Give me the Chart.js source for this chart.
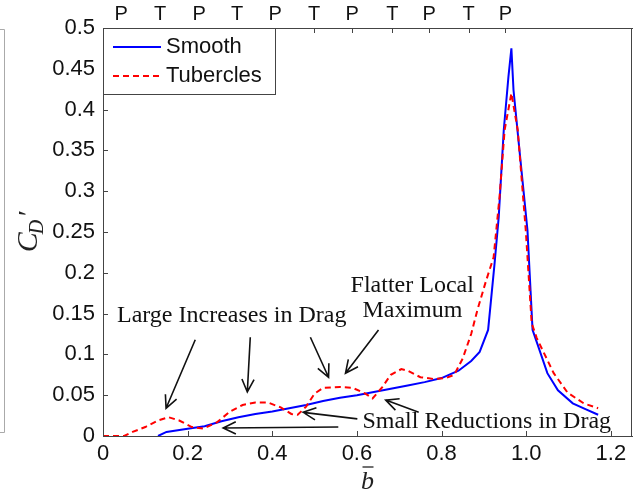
<!DOCTYPE html>
<html>
<head>
<meta charset="utf-8">
<script src="https://cdn.jsdelivr.net/npm/chart.js@4.4.1/dist/chart.umd.min.js"></script>
<style>
  html, body { margin: 0; padding: 0; background: #fff; }
  #wrap { width: 633px; height: 493px; position: relative; }
</style>
</head>
<body>
<div id="wrap"><canvas id="chart"></canvas></div>
<script>
// Smooth flipper (blue, solid)
const smoothX = [0.13, 0.15, 0.20, 0.24, 0.28, 0.32, 0.36, 0.40, 0.44, 0.48, 0.52, 0.56, 0.60, 0.64, 0.68, 0.72, 0.76, 0.80, 0.84, 0.87, 0.89, 0.91, 0.925, 0.935, 0.947, 0.958, 0.965, 0.970, 0.987, 1.003, 1.015, 1.025, 1.05, 1.075, 1.11, 1.14, 1.17];
const smoothY = [0, 0.005, 0.009, 0.012, 0.018, 0.023, 0.027, 0.030, 0.034, 0.038, 0.043, 0.047, 0.050, 0.054, 0.058, 0.062, 0.066, 0.071, 0.080, 0.092, 0.103, 0.13, 0.21, 0.268, 0.375, 0.44, 0.475, 0.424, 0.335, 0.252, 0.13, 0.115, 0.077, 0.056, 0.040, 0.033, 0.026];

// Tubercles (red, dashed)
const tuberX = [0, 0.05, 0.07, 0.10, 0.13, 0.155, 0.18, 0.21, 0.237, 0.27, 0.30, 0.33, 0.36, 0.39, 0.42, 0.445, 0.46, 0.48, 0.50, 0.52, 0.56, 0.59, 0.62, 0.637, 0.66, 0.68, 0.705, 0.72, 0.75, 0.78, 0.81, 0.83, 0.85, 0.87, 0.885, 0.905, 0.923, 0.937, 0.949, 0.965, 0.98, 0.999, 1.013, 1.025, 1.065, 1.098, 1.136, 1.17];
const tuberY = [0, 0, 0.005, 0.011, 0.019, 0.023, 0.019, 0.011, 0.009, 0.017, 0.030, 0.038, 0.041, 0.041, 0.035, 0.027, 0.026, 0.036, 0.052, 0.059, 0.060, 0.059, 0.052, 0.046, 0.060, 0.075, 0.082, 0.080, 0.072, 0.070, 0.071, 0.075, 0.095, 0.125, 0.155, 0.19, 0.219, 0.293, 0.375, 0.42, 0.375, 0.252, 0.138, 0.12, 0.077, 0.053, 0.040, 0.034];

const bottomTicks = [0, 0.2, 0.4, 0.6, 0.8, 1.0, 1.2];
const leftTicks = [0, 0.05, 0.1, 0.15, 0.2, 0.25, 0.3, 0.35, 0.4, 0.45, 0.5];
const topTickX = [0.043, 0.135, 0.227, 0.317, 0.407, 0.499, 0.589, 0.684, 0.771, 0.864, 0.951];
const topTickLabels = ['P', 'T', 'P', 'T', 'P', 'T', 'P', 'T', 'P', 'T', 'P'];

// annotation texts and arrows, in data units
const notes = [
    { text: 'Large Increases in Drag', x: 0.033, y: 0.140 },
    { text: 'Flatter Local', x: 0.585, y: 0.1765 },
    { text: 'Maximum', x: 0.613, y: 0.1458 },
    { text: 'Small Reductions in Drag', x: 0.613, y: 0.0098 }
];
const arrows = [
    [0.218, 0.118, 0.149, 0.034],
    [0.348, 0.121, 0.341, 0.054],
    [0.490, 0.121, 0.533, 0.072],
    [0.651, 0.130, 0.573, 0.077],
    [0.556, 0.011, 0.284, 0.0098],
    [0.601, 0.021, 0.473, 0.029],
    [0.746, 0.029, 0.668, 0.044]
];

const sansFont = 'Liberation Sans, Arial, sans-serif';
const serifFont = 'Liberation Serif, Times New Roman, serif';
const axisColor = '#444';

function drawArrow(ctx, x1, y1, x2, y2) {
    const a = Math.atan2(y2 - y1, x2 - x1);
    const L = 14, w = Math.PI / 7;
    ctx.beginPath();
    ctx.moveTo(x1, y1);
    ctx.lineTo(x2, y2);
    ctx.moveTo(x2 - L * Math.cos(a - w), y2 - L * Math.sin(a - w));
    ctx.lineTo(x2, y2);
    ctx.lineTo(x2 - L * Math.cos(a + w), y2 - L * Math.sin(a + w));
    ctx.stroke();
}

const extras = {
    id: 'extras',
    beforeDraw(chart) {
        const ctx = chart.ctx;
        ctx.save();
        ctx.fillStyle = '#fff';
        ctx.fillRect(0, 0, chart.width, chart.height);
        ctx.restore();
    },
    afterDraw(chart) {
        const ctx = chart.ctx;
        const area = chart.chartArea;
        const xs = chart.scales.x, ys = chart.scales.y;
        ctx.save();

        // right border of the box
        ctx.strokeStyle = axisColor;
        ctx.lineWidth = 1;
        ctx.beginPath();
        ctx.moveTo(Math.round(area.right) - 0.5, area.top);
        ctx.lineTo(Math.round(area.right) - 0.5, area.bottom);
        ctx.stroke();

        // inward ticks
        ctx.beginPath();
        bottomTicks.forEach(v => {
            const p = Math.round(xs.getPixelForValue(v)) + 0.5;
            ctx.moveTo(p, area.bottom); ctx.lineTo(p, area.bottom - 5);
        });
        topTickX.forEach(v => {
            const p = Math.round(xs.getPixelForValue(v)) + 0.5;
            ctx.moveTo(p, area.top); ctx.lineTo(p, area.top + 5);
        });
        leftTicks.forEach(v => {
            const p = Math.round(ys.getPixelForValue(v)) + 0.5;
            ctx.moveTo(area.left, p); ctx.lineTo(area.left + 5, p);
        });
        ctx.stroke();

        // edge of neighbouring panel
        ctx.strokeStyle = '#aaa';
        ctx.beginPath();
        ctx.moveTo(0, 29.5); ctx.lineTo(4.5, 29.5); ctx.lineTo(4.5, 432.5); ctx.lineTo(0, 432.5);
        ctx.stroke();

        // legend
        const lx = area.left, ly = area.top;
        ctx.fillStyle = '#fff';
        ctx.fillRect(lx, ly, 172, 66);
        ctx.strokeStyle = axisColor;
        ctx.strokeRect(lx + 0.5, ly + 0.5, 172, 66);
        ctx.lineWidth = 2;
        ctx.strokeStyle = '#0000ff';
        ctx.beginPath(); ctx.moveTo(lx + 10, ly + 19); ctx.lineTo(lx + 58, ly + 19); ctx.stroke();
        ctx.strokeStyle = '#ff0000';
        ctx.setLineDash([6, 4]);
        ctx.beginPath(); ctx.moveTo(lx + 10, ly + 48); ctx.lineTo(lx + 58, ly + 48); ctx.stroke();
        ctx.setLineDash([]);
        ctx.fillStyle = '#111';
        ctx.font = '22px ' + sansFont;
        ctx.textBaseline = 'middle';
        ctx.textAlign = 'left';
        ctx.fillText('Smooth', lx + 63, ly + 19);
        ctx.fillText('Tubercles', lx + 63, ly + 48);

        // annotations
        ctx.font = '24px ' + serifFont;
        ctx.textBaseline = 'alphabetic';
        notes.forEach(n => {
            ctx.fillText(n.text, xs.getPixelForValue(n.x), ys.getPixelForValue(n.y));
        });
        ctx.strokeStyle = '#111';
        ctx.lineWidth = 1.6;
        arrows.forEach(a => {
            drawArrow(ctx, xs.getPixelForValue(a[0]), ys.getPixelForValue(a[1]),
                xs.getPixelForValue(a[2]), ys.getPixelForValue(a[3]));
        });

        // y title C_D'
        ctx.save();
        ctx.translate(37, 232);
        ctx.rotate(-Math.PI / 2);
        ctx.fillStyle = '#222';
        ctx.textAlign = 'left';
        ctx.font = 'italic 30px ' + serifFont;
        const wC = ctx.measureText('C').width;
        ctx.font = 'italic 20px ' + serifFont;
        const wD = ctx.measureText('D').width;
        ctx.font = 'italic 28px ' + serifFont;
        const wP = ctx.measureText('\u2032').width;
        let x0 = -(wC + wD + wP) / 2;
        ctx.font = 'italic 30px ' + serifFont;
        ctx.fillText('C', x0, 0);
        ctx.font = 'italic 20px ' + serifFont;
        ctx.fillText('D', x0 + wC - 2, 6);
        ctx.font = 'italic 28px ' + serifFont;
        ctx.fillText('\u2032', x0 + wC + wD, 0);
        ctx.restore();

        // x title b with bar
        const cx = (area.left + area.right) / 2;
        ctx.font = 'italic 26px ' + serifFont;
        ctx.textAlign = 'center';
        ctx.fillStyle = '#222';
        ctx.fillText('b', cx, 489);
        ctx.strokeStyle = '#222';
        ctx.lineWidth = 1.3;
        ctx.beginPath(); ctx.moveTo(cx - 5, 467); ctx.lineTo(cx + 6, 467); ctx.stroke();

        ctx.restore();
    }
};

const chart = new Chart(document.getElementById('chart'), {
    type: 'line',
    data: {
        datasets: [
            {
                label: 'Tubercles',
                data: tuberX.map((x, i) => ({ x: x, y: tuberY[i] })),
                borderColor: '#ff0000',
                borderDash: [6, 4],
                borderWidth: 2,
                order: 0
            },
            {
                label: 'Smooth',
                data: smoothX.map((x, i) => ({ x: x, y: smoothY[i] })),
                borderColor: '#0000ff',
                borderWidth: 2,
                order: 1
            }
        ]
    },
    options: {
        responsive: true,
        maintainAspectRatio: false,
        animation: false,
        layout: { padding: { left: 0, right: 1, top: 0, bottom: 0 } },
        elements: { point: { radius: 0 }, line: { tension: 0 } },
        plugins: { legend: { display: false }, tooltip: { enabled: false } },
        scales: {
            x: {
                type: 'linear', position: 'bottom', min: 0, max: 1.25,
                afterBuildTicks: s => { s.ticks = bottomTicks.map(v => ({ value: v })); },
                afterFit: s => { s.height = 57; },
                grid: { drawOnChartArea: false, drawTicks: false },
                border: { color: axisColor },
                ticks: {
                    autoSkip: false, maxRotation: 0, padding: 5, color: '#111',
                    font: { family: sansFont, size: 22 },
                    callback: v => v === 0 ? '0' : v.toFixed(1)
                }
            },
            x2: {
                type: 'linear', position: 'top', min: 0, max: 1.25,
                afterBuildTicks: s => { s.ticks = topTickX.map(v => ({ value: v })); },
                afterFit: s => { s.height = 28; },
                grid: { drawOnChartArea: false, drawTicks: false },
                border: { color: axisColor },
                ticks: {
                    autoSkip: false, maxRotation: 0, padding: 2, color: '#111',
                    font: { family: sansFont, size: 20 },
                    callback: (v, i) => topTickLabels[i]
                }
            },
            y: {
                type: 'linear', min: 0, max: 0.5,
                afterBuildTicks: s => { s.ticks = leftTicks.map(v => ({ value: v })); },
                afterFit: s => { s.width = 103; },
                grid: { drawOnChartArea: false, drawTicks: false },
                border: { color: axisColor },
                ticks: {
                    autoSkip: false, padding: 8, color: '#111',
                    font: { family: sansFont, size: 22 },
                    callback: v => String(+v.toFixed(2))
                }
            }
        }
    },
    plugins: [extras]
});
</script>
</body>
</html>
